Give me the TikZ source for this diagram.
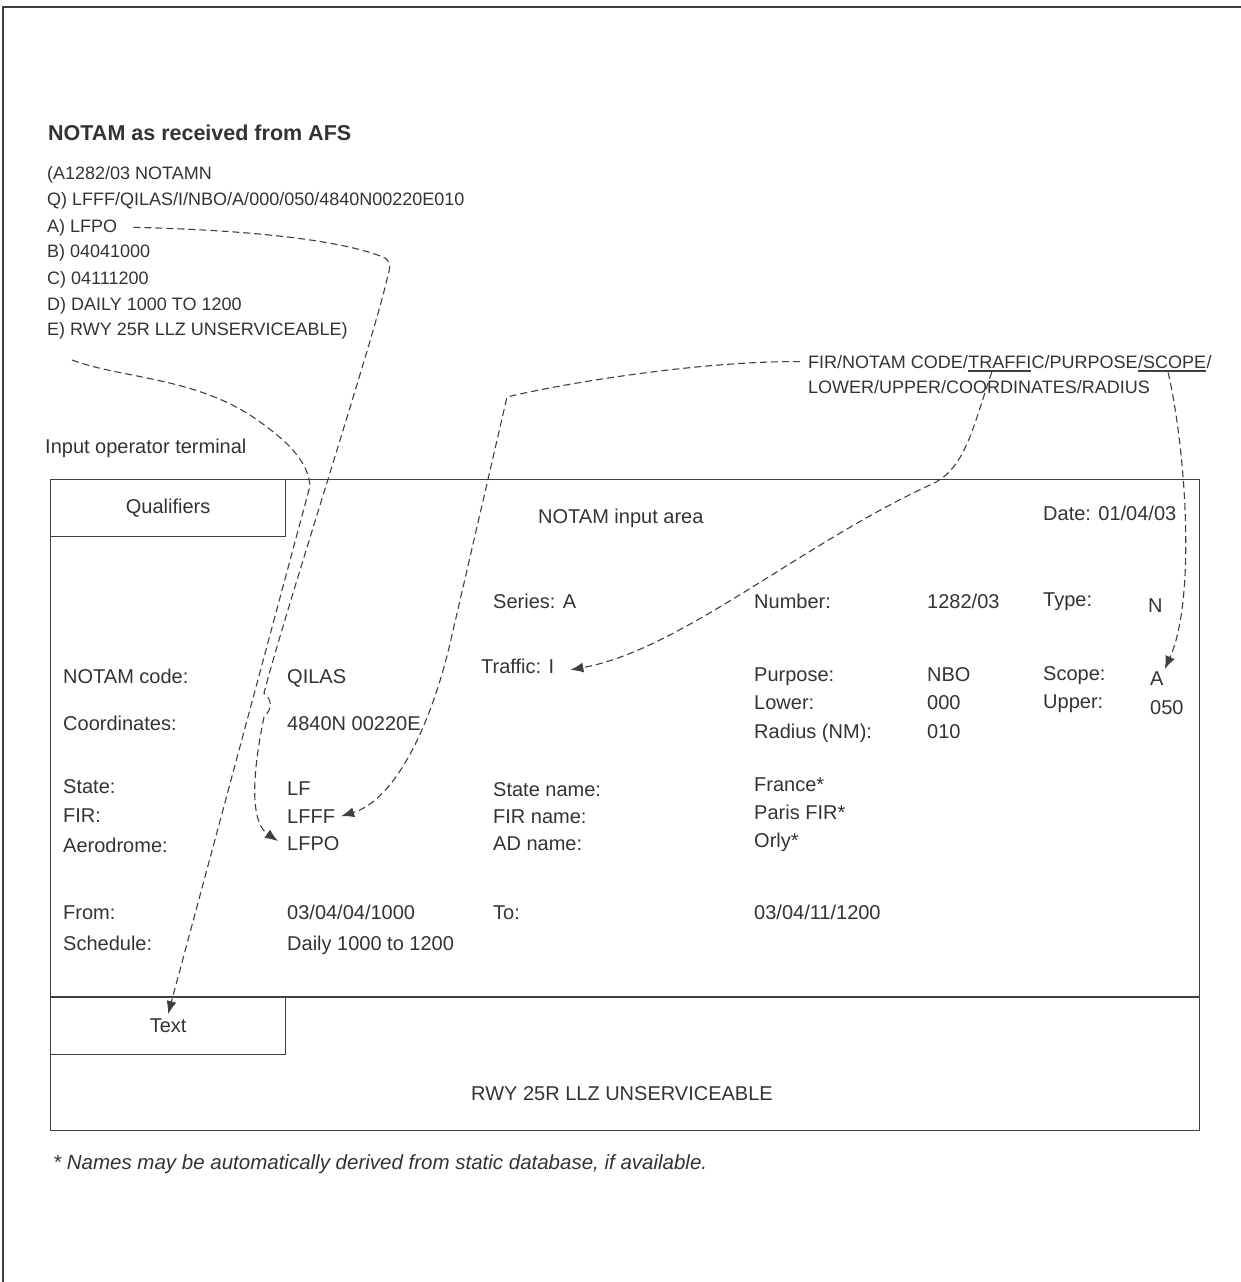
\documentclass[tikz,border=0pt]{standalone}
\usepackage{fontspec}
\setmainfont{Liberation Sans}
\usetikzlibrary{arrows.meta}
\usetikzlibrary{positioning}

\definecolor{ink}{HTML}{333333}
\definecolor{rule}{HTML}{404040}

\tikzset{
	lbl/.style={anchor=base west, inner sep=0pt, text=ink},
	msg/.style={lbl, font=\fontsize{18}{22}\selectfont},
	tab/.style={draw=rule, line width=1.2pt, minimum width=235pt, minimum height=57pt, inner sep=0pt, anchor=north west, text=ink},
	link/.style={draw=rule, line width=1.1pt, dash pattern=on 7pt off 4pt, -{Latex[length=13pt,width=10pt]}},
	uline/.style={draw=rule, line width=2.2pt},
}

\begin{document}
\begin{tikzpicture}[x=1pt, y=-1pt, font=\fontsize{20}{24}\selectfont]

	\useasboundingbox (0,0) rectangle (1241,1282);

	% frame
	\draw[rule, line width=1.5pt] (3,1282) -- (3,7) -- (1241,7);

	% message as received
	\node[lbl, font=\fontsize{21.5}{25}\selectfont\bfseries] (afs) at (48,140) {NOTAM as received from AFS};
	\node[msg] (msgHead) at (47,179) {(A1282/03 NOTAMN};
	\node[msg] (msgQ) at (47,205) {Q) LFFF/QILAS/I/NBO/A/000/050/4840N00220E010};
	\node[msg] (msgA) at (47,232) {A) LFPO};
	\node[msg] (msgB) at (47,257) {B) 04041000};
	\node[msg] (msgC) at (47,284) {C) 04111200};
	\node[msg] (msgD) at (47,310) {D) DAILY 1000 TO 1200};
	\node[msg] (msgE) at (47,335) {E) RWY 25R LLZ UNSERVICEABLE)};

	% qualifier fields
	\node[msg] (qA) at (808,368) {FIR/NOTAM CODE/};
	\node[msg, base right=0pt of qA] (qB) {TRAFFI};
	\node[msg, base right=0pt of qB] (qC) {C/PURPOSE};
	\node[msg, base right=0pt of qC] (qD) {/SCOPE};
	\node[msg, base right=0pt of qD] (qE) {/};
	\node[msg] (qLine2) at (808,393) {LOWER/UPPER/COORDINATES/RADIUS};
	\draw[uline] ([yshift=-3pt]qB.base west) -- ([yshift=-3pt]qB.base east);
	\draw[uline] ([yshift=-3pt]qD.base west) -- ([yshift=-3pt]qD.base east);

	% terminal
	\node[lbl] (opTerm) at (45,453) {Input operator terminal};
	\node[draw=rule, line width=1.2pt, minimum width=1149pt, minimum height=651pt, anchor=north west, inner sep=0pt] (term) at (50,479) {};
	\node[tab] (qual) at (term.north west) {Qualifiers};
	\coordinate (split) at (50,997);
	\draw[rule, line width=1.2pt] (split) -- (split -| term.east);
	\node[tab] (textTab) at (split) {Text};

	\node[lbl] (inArea) at (538,523) {NOTAM input area};
	\node[lbl] (date) at (1043,520) {Date: 01/04/03};

	\node[lbl] (series) at (493,608) {Series: A};
	\node[lbl] (numLbl) at (754,608) {Number:};
	\node[lbl] (num) at (927,608) {1282/03};
	\node[lbl] (typeLbl) at (1043,606) {Type:};
	\node[lbl] (typeN) at (1148,612) {N};

	\node[lbl] (codeLbl) at (63,683) {NOTAM code:};
	\node[lbl] (code) at (287,683) {QILAS};
	\node[lbl] (traffic) at (481,673) {Traffic: I};
	\node[lbl] (purpLbl) at (754,681) {Purpose:};
	\node[lbl] (purp) at (927,681) {NBO};
	\node[lbl] (scLbl) at (1043,680) {Scope:};
	\node[lbl] (scA) at (1150,685) {A};
	\node[lbl] (lowLbl) at (754,709) {Lower:};
	\node[lbl] (low) at (927,709) {000};
	\node[lbl] (upLbl) at (1043,708) {Upper:};
	\node[lbl] (up) at (1150,714) {050};
	\node[lbl] (coordLbl) at (63,730) {Coordinates:};
	\node[lbl] (coord) at (287,730) {4840N 00220E};
	\node[lbl] (radLbl) at (754,738) {Radius (NM):};
	\node[lbl] (rad) at (927,738) {010};

	\node[lbl] (stLbl) at (63,793) {State:};
	\node[lbl] (st) at (287,795) {LF};
	\node[lbl] (stNameLbl) at (493,796) {State name:};
	\node[lbl] (stName) at (754,791) {France*};
	\node[lbl] (firLbl) at (63,822) {FIR:};
	\node[lbl] (fFIR) at (287,823) {LFFF};
	\node[lbl] (firNameLbl) at (493,823) {FIR name:};
	\node[lbl] (firName) at (754,819) {Paris FIR*};
	\node[lbl] (adLbl) at (63,852) {Aerodrome:};
	\node[lbl] (adLFPO) at (287,850) {LFPO};
	\node[lbl] (adNameLbl) at (493,850) {AD name:};
	\node[lbl] (adName) at (754,847) {Orly*};

	\node[lbl] (fromLbl) at (63,919) {From:};
	\node[lbl] (from) at (287,919) {03/04/04/1000};
	\node[lbl] (toLbl) at (493,919) {To:};
	\node[lbl] (to) at (754,919) {03/04/11/1200};
	\node[lbl] (schedLbl) at (63,950) {Schedule:};
	\node[lbl] (sched) at (287,950) {Daily 1000 to 1200};

	\node[lbl] (rwy) at (471,1100) {RWY 25R LLZ UNSERVICEABLE};

	\node[lbl, font=\fontsize{20.5}{24}\selectfont\itshape] (note) at (53,1169) {* Names may be automatically derived from static database, if available.};

	% connectors
	\draw[link] ([xshift=16pt]msgA.east) .. controls (250,230) and (340,240) .. (383,257)
		.. controls (390,260) and (391,266) .. (388,275)
		.. controls (375,335) and (287,605) .. (264,693)
		.. controls (273,701) and (272,709) .. (264,717)
		.. controls (252,775) and (250,822) .. ([xshift=-9pt,yshift=2pt]adLFPO.west);

	\coordinate (eTail) at ([shift={(25,25)}]msgE.base west);
	\draw[link] (eTail) .. controls (120,378) and (190,377) .. (250,415)
		.. controls (290,442) and (308,462) .. (310,486) -- ([yshift=12pt]textTab.center);

	\draw[link] ([xshift=-8pt]qA.west) .. controls (700,361) and (565,383) .. (507,397)
		-- (452,635) .. controls (432,725) and (395,800) .. ([xshift=6pt]fFIR.east);

	\draw[link] ([xshift=-8pt,yshift=-4pt]qB.south) .. controls (972,430) and (965,470) .. (930,485)
		.. controls (800,545) and (680,650) .. ([xshift=16pt,yshift=-4pt]traffic.east);

	\draw[link] ([xshift=-4pt,yshift=-4pt]qD.south) .. controls (1186,450) and (1196,600) .. ([xshift=1pt,yshift=2pt]scA.north east);

\end{tikzpicture}
\end{document}
